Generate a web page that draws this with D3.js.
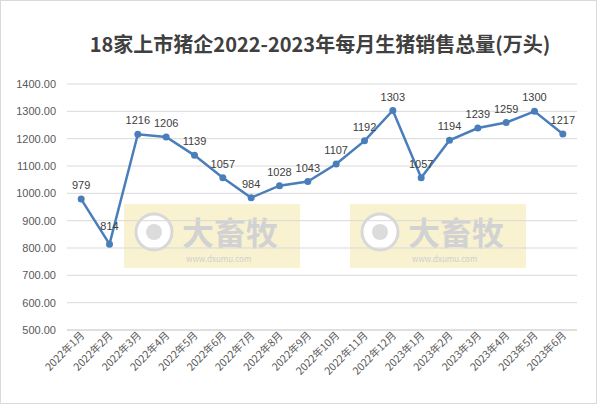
<!DOCTYPE html><html><head><meta charset="utf-8"><script src="https://cdn.jsdelivr.net/npm/d3@7"></script>
<style>body{margin:0;background:#fff}svg{font-family:"Noto Sans CJK SC","DejaVu Sans",sans-serif}</style></head><body><svg id="c" width="597" height="404"></svg>
<script>
const categories=["2022年1月","2022年2月","2022年3月","2022年4月","2022年5月","2022年6月","2022年7月","2022年8月","2022年9月","2022年10月","2022年11月","2022年12月","2023年1月","2023年2月","2023年3月","2023年4月","2023年5月","2023年6月"];
const values=[979,814,1216,1206,1139,1057,984,1028,1043,1107,1192,1303,1057,1194,1239,1259,1300,1217];
const yTicks=[500,600,700,800,900,1000,1100,1200,1300,1400];
const title="18家上市猪企2022-2023年每月生猪销售总量(万头)";
const svg=d3.select("#c");
svg.append("rect").attr("x",0.5).attr("y",0.5).attr("width",596).attr("height",403).attr("fill","#fff").attr("stroke","#d9d9d9");
const x=d3.scaleBand().domain(categories).range([67,577]);
const y=d3.scaleLinear().domain([500,1400]).range([330,84]);
svg.append("text").attr("x",320).attr("y",52).attr("text-anchor","middle").attr("font-size",20).attr("font-weight","bold").attr("fill","#404040").text(title);
[[124,300],[350,526]].forEach(([a,b])=>{
 const g=svg.append("g");
 g.append("rect").attr("x",a).attr("y",204).attr("width",b-a).attr("height",64).attr("fill","#f7efc4").attr("opacity",0.8);
 g.append("circle").attr("cx",a+30).attr("cy",232).attr("r",18).attr("fill","#fff").attr("stroke","#d8d8d8").attr("stroke-width",3);
 g.append("circle").attr("cx",a+30).attr("cy",232).attr("r",8).attr("fill","#dcdcdc");
 g.append("text").attr("x",a+58).attr("y",245).attr("font-size",32).attr("font-weight","bold").attr("fill","#d2d2d2").text("大畜牧");
 g.append("text").attr("x",a+62).attr("y",262).attr("font-size",8).attr("fill","#cfcfcf").text("www.dxumu.com");
});
const ga=svg.append("g");
yTicks.forEach(t=>{
 ga.append("line").attr("x1",67).attr("x2",577).attr("y1",y(t)).attr("y2",y(t)).attr("stroke",t===500?"#bfbfbf":"#d9d9d9");
 ga.append("text").attr("x",56).attr("y",y(t)+4).attr("text-anchor","end").attr("font-size",11).attr("fill","#595959").attr("font-family","Liberation Sans, Arial").text(t.toFixed(2));
});
categories.forEach(c=>{
 const cx=x(c)+x.bandwidth()/2;
 ga.append("text").attr("transform",`translate(${cx+4},${336}) rotate(-45)`).attr("text-anchor","end").attr("font-size",10.5).attr("fill","#595959").text(c);
});
const line=d3.line().x((d,i)=>x(categories[i])+x.bandwidth()/2).y(d=>y(d));
svg.append("path").datum(values).attr("d",line).attr("fill","none").attr("stroke","#4a7ebb").attr("stroke-width",2.5);
svg.selectAll(".p").data(values).enter().append("circle").attr("cx",(d,i)=>x(categories[i])+x.bandwidth()/2).attr("cy",d=>y(d)).attr("r",3.5).attr("fill","#4a7ebb");
svg.selectAll(".l").data(values).enter().append("text").attr("x",(d,i)=>x(categories[i])+x.bandwidth()/2).attr("y",(d,i)=>y(d)-(i===1?14:10)).attr("text-anchor","middle").attr("font-size",11).attr("fill","#404040").attr("font-family","Liberation Sans, Arial").text(d=>d);
</script></body></html>
